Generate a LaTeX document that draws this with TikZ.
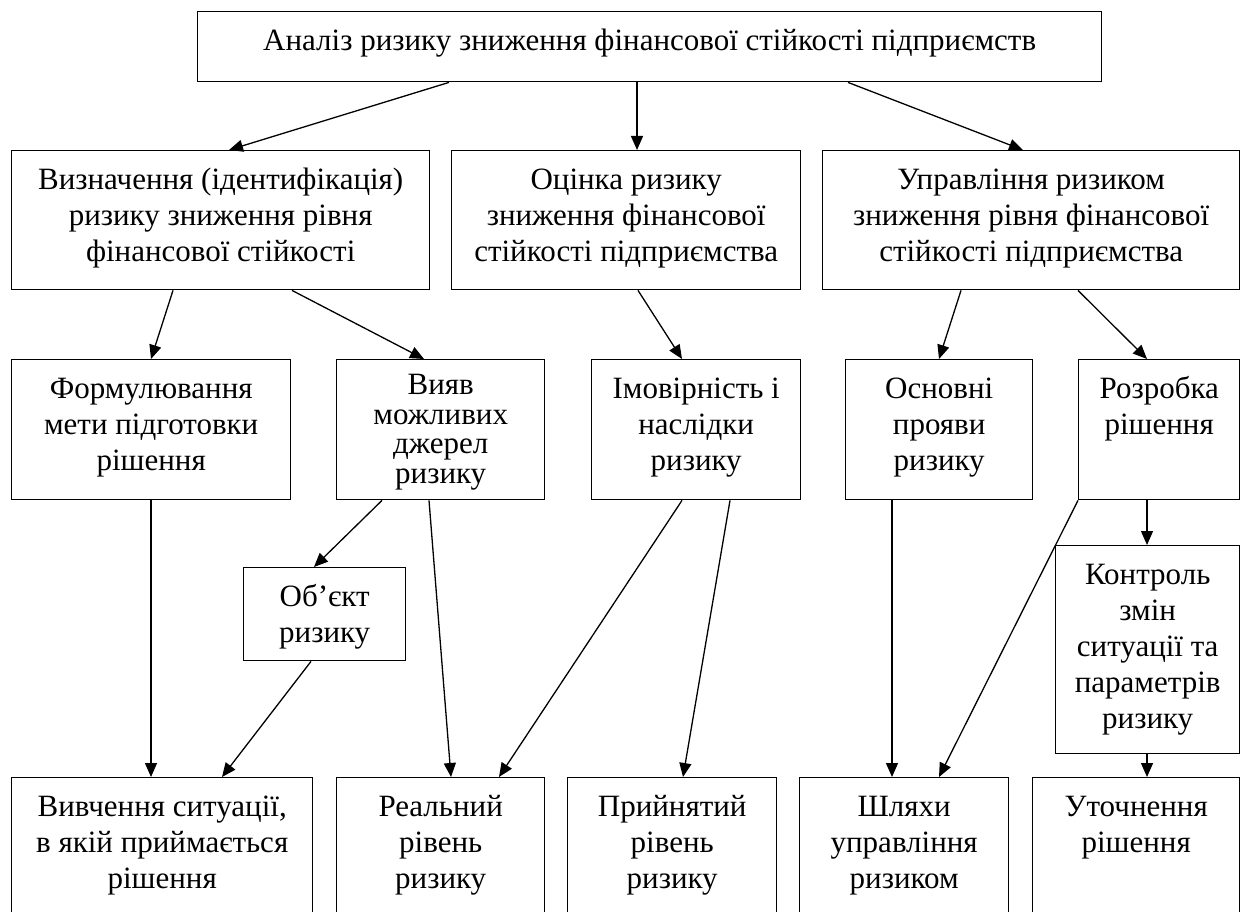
\documentclass[tikz,border=0pt]{standalone}
\usepackage{fontspec}
\setmainfont{Liberation Serif}
\usepackage{tikz}
\usetikzlibrary{arrows.meta}
\tikzstyle{every node}=[font=\fontsize{31}{36}\selectfont]
\tikzstyle{cell}=[draw, line width=1.4pt, anchor=north west, inner sep=0pt]
\tikzstyle{link}=[line width=1.3pt, -{Triangle[length=14pt,width=12pt]}]
\newcommand{\celltext}[3]{\parbox[t][#2pt][t]{#1pt}{\centering\rule{0pt}{39pt}#3}}

\begin{document}
\begin{tikzpicture}[x=1pt, y=-1pt]
 \useasboundingbox (0,0) rectangle (1242,912);
 \clip (0,0) rectangle (1242,912);
 \node[cell] (analiz) at (197,11) {\celltext{904}{70}{Аналіз ризику зниження фінансової стійкості підприємств}};
 \node[cell] (vyznach) at (11,150) {\celltext{418}{139}{Визначення (ідентифікація)\\ ризику зниження рівня\\ фінансової стійкості}};
 \node[cell] (otsinka) at (451,150) {\celltext{349}{139}{Оцінка ризику\\ зниження фінансової\\ стійкості підприємства}};
 \node[cell] (upravl) at (822,150) {\celltext{417}{139}{Управління ризиком\\ зниження рівня фінансової\\ стійкості підприємства}};
 \node[cell] (formul) at (11,359) {\celltext{279}{140}{Формулювання\\ мети підготовки\\ рішення}};
 \node[cell] (vyiav) at (336,359) {\parbox[t][140pt][t]{208pt}{\centering\fontsize{31}{29.5}\selectfont\rule{0pt}{35pt}Вияв\\ можливих\\ джерел\\ ризику}};
 \node[cell] (imovir) at (591,359) {\celltext{209}{140}{Імовірність і\\ наслідки\\ ризику}};
 \node[cell] (osnovni) at (845,359) {\celltext{187}{140}{Основні\\ прояви\\ ризику}};
 \node[cell] (rozrob) at (1078,359) {\celltext{161}{140}{Розробка\\ рішення}};
 \node[cell] (obiekt) at (243,567) {\celltext{162}{93}{Об’єкт\\ ризику}};
 \node[cell] (kontrol) at (1055,545) {\celltext{184}{208}{Контроль\\ змін\\ ситуації та\\ параметрів\\ ризику}};
 \node[cell] (vyvch) at (11,777) {\celltext{301}{140}{Вивчення ситуації,\\ в якій приймається\\ рішення}};
 \node[cell] (realn) at (336,777) {\celltext{208}{140}{Реальний\\ рівень\\ ризику}};
 \node[cell] (pryin) at (567,777) {\celltext{209}{140}{Прийнятий\\ рівень\\ ризику}};
 \node[cell] (shliakhy) at (799,777) {\celltext{209}{140}{Шляхи\\ управління\\ ризиком}};
 \node[cell] (utochn) at (1032,777) {\celltext{207}{140}{Уточнення\\ рішення}};
 \draw[link] ([xshift=252pt]analiz.south west) -- ([xshift=218pt]vyznach.north west);
 \draw[link] ([xshift=440pt]analiz.south west) -- ([xshift=186pt]otsinka.north west);
 \draw[link] ([xshift=651pt]analiz.south west) -- ([xshift=201pt]upravl.north west);
 \draw[link] ([xshift=162pt]vyznach.south west) -- ([xshift=140pt]formul.north west);
 \draw[link] ([xshift=281pt]vyznach.south west) -- ([xshift=88pt]vyiav.north west);
 \draw[link] ([xshift=187pt]otsinka.south west) -- ([xshift=91pt]imovir.north west);
 \draw[link] ([xshift=139pt]upravl.south west) -- ([xshift=94pt]osnovni.north west);
 \draw[link] ([xshift=256pt]upravl.south west) -- ([xshift=69pt]rozrob.north west);
 \draw[link] ([xshift=140pt]formul.south west) -- ([xshift=140pt]vyvch.north west);
 \draw[link] ([xshift=46pt]vyiav.south west) -- ([xshift=71pt]obiekt.north west);
 \draw[link] ([xshift=68pt]obiekt.south west) -- ([xshift=211pt]vyvch.north west);
 \draw[link] ([xshift=93pt]vyiav.south west) -- ([xshift=115pt]realn.north west);
 \draw[link] ([xshift=91pt]imovir.south west) -- ([xshift=163pt]realn.north west);
 \draw[link] ([xshift=139pt]imovir.south west) -- ([xshift=116pt]pryin.north west);
 \draw[link] ([xshift=47pt]osnovni.south west) -- ([xshift=93pt]shliakhy.north west);
 \draw[link] (rozrob.south west) -- ([xshift=140pt]shliakhy.north west);
 \draw[link] ([xshift=69pt]rozrob.south west) -- ([xshift=92pt]kontrol.north west);
 \draw[link] ([xshift=92pt]kontrol.south west) -- ([xshift=115pt]utochn.north west);
\end{tikzpicture}
\end{document}
